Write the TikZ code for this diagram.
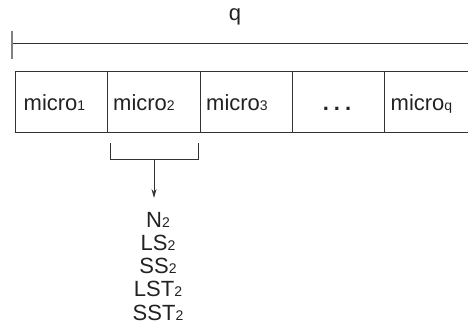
\documentclass[tikz,border=0pt]{standalone}
\usepackage{fontspec}
\setmainfont{Liberation Sans}
\usetikzlibrary{arrows.meta}
\definecolor{ink}{HTML}{222222}
\definecolor{linec}{HTML}{333333}
\newcommand{\sbs}[1]{{\fontsize{14pt}{14pt}\selectfont #1}}
\tikzset{
  lbl/.style={font=\fontsize{22pt}{26pt}\selectfont, text=ink, inner sep=0pt, anchor=base},
  cl/.style={lbl, anchor=base west},
  cell/.style={draw=linec, line width=0.9pt},
  ln/.style={draw=linec, line width=0.9pt}
}
\begin{document}
\begin{tikzpicture}[x=1pt, y=-1pt]
\useasboundingbox (0,0) rectangle (468,325);
\clip (0,0) rectangle (468,325);
% scale line
\coordinate (sL) at (12,43);
\coordinate (sR) at (470,43);
\draw[ln] (sL) -- (sR);
\draw[draw=gray, line width=1.6pt] (12,31) -- (12,59);
\node[lbl] (q) at (235,20) {q};
% cells
\draw[cell] (15.5,71.5) rectangle (107.5,132);
\draw[cell] (107.5,71.5) rectangle (200,132);
\draw[cell] (200,71.5) rectangle (292,132);
\draw[cell] (292,71.5) rectangle (384,132);
\draw[cell] (384,71.5) rectangle (480,132);
\node[cl] (m1) at (23.5,110) {micro\sbs{1}};
\node[cl] (m2) at (113,110) {micro\sbs{2}};
\node[cl] (m3) at (206,110) {micro\sbs{3}};
\node[lbl] (dots) at (337,110) {\textbf{.\kern5pt.\kern5pt.}};
\node[cl] (mq) at (390.5,110) {micro\sbs{q}};
% bracket
\coordinate (bl) at (110,143);
\coordinate (br) at (198,143);
\coordinate (bm) at (154,159);
\coordinate (tip) at (154,198);
\draw[ln] (bl) -- (110,159) -- (198,159) -- (br);
\draw[ln, -{Stealth[length=9pt, width=5pt]}] (bm) -- (tip);
% list
\node[lbl] (n1) at (158,227) {N\sbs{2}};
\node[lbl] (n2) at (158,250) {LS\sbs{2}};
\node[lbl] (n3) at (158,273) {SS\sbs{2}};
\node[lbl] (n4) at (158,296.5) {LST\sbs{2}};
\node[lbl] (n5) at (158,320) {SST\sbs{2}};
\end{tikzpicture}
\end{document}
